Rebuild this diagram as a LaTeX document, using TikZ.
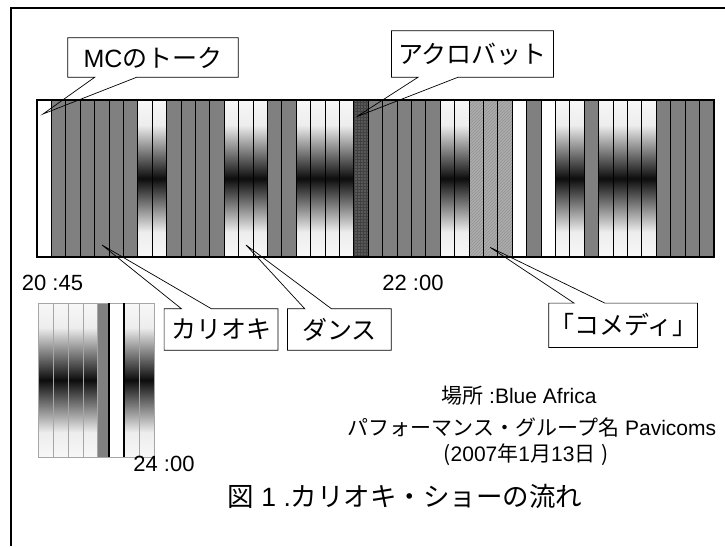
\documentclass[tikz,border=0pt]{standalone}
\usepackage{fontspec}
\setmainfont{Noto Sans CJK JP}
\newfontfamily\lat{Liberation Sans}
\usetikzlibrary{calc,patterns}
\definecolor{colgray}{gray}{0.5}
\definecolor{hatchgray}{gray}{0.68}
\definecolor{checkgray}{gray}{0.35}
\pgfdeclareverticalshading{bandshade}{100bp}{color(0bp)=(black!3); color(25bp)=(black!3); color(33bp)=(black!7); color(50bp)=(black!95); color(67bp)=(black!7); color(75bp)=(black!3); color(100bp)=(black!3)}
\tikzset{
  callbox/.style={inner sep=0pt, font=\fontsize{25}{29}\selectfont},
  callline/.style={line width=0.7pt, line join=miter},
  timelabel/.style={inner sep=0pt, font=\lat\fontsize{22}{26}\selectfont},
  infotext/.style={inner sep=0pt, font=\fontsize{21}{25}\selectfont},
  sep/.style={line width=0.8pt},
  band/.style={shading=bandshade},
}
\begin{document}
\begin{tikzpicture}[x=1pt,y=-1pt]
\useasboundingbox (0,0) rectangle (725,546);
% outer frame
\draw[line width=2pt] (725,8) -- (11,8) -- (11,546);

% ---------- main strip ----------
\fill[white] (37,100) rectangle (713.8,257);
\foreach \i in {2,...,7,10,11,12,13,17,18,24,25,26,27,28,35,39,44,45,46,47}
  \fill[colgray] ({37+(\i-1)*14.4},100) rectangle ++(14.4,157);
\foreach \i in {8,9,14,15,16,19,20,21,22,29,30,37,38,40,41,42,43}
  \shade[band] ({37+(\i-1)*14.4},100) rectangle ++(14.4,157);
\fill[checkgray] ({37+22*14.4},100) rectangle ++(14.4,157);
\fill[pattern=grid, pattern color=black!75] ({37+22*14.4},100) rectangle ++(14.4,157);
\foreach \i in {31,32,33}{
  \fill[hatchgray] ({37+(\i-1)*14.4},100) rectangle ++(14.4,157);
  \fill[pattern=north east lines, pattern color=gray!85] ({37+(\i-1)*14.4},100) rectangle ++(14.4,157);
}
\foreach \i in {1,...,46}
  \draw[sep] ({37+\i*14.4},100) -- ++(0,157);
\draw[line width=2.4pt] (37,100) rectangle (713.8,257);

% ---------- small strip ----------
\foreach \a/\b in {38.3/53.3,53.3/68.3,68.3/83.3,83.3/97.7,124.3/139.3,139.3/154.3}
  \shade[band] (\a,303) rectangle (\b,457);
\fill[colgray] (97.7,303) rectangle (109.3,457);
\foreach \a in {53.3,68.3,83.3,97.7,139.3}
  \draw[line width=0.6pt, gray!70] (\a,303) -- (\a,457);
\draw[line width=0.6pt, gray!70] (38.3,303) rectangle (154.3,457);
\draw[line width=1.8pt] (109.3,303) -- (109.3,457);
\draw[line width=1.8pt] (124.3,303) -- (124.3,457);

% ---------- time labels ----------
\node[timelabel] (t2045) at (52.5,283) {20 :45};
\node[timelabel] (t2200) at (413,283) {22 :00};
\node[timelabel] (t2400) at (164,464) {24 :00};

% ---------- callouts ----------
\coordinate (tipmc) at (43,114);
\coordinate (tipacro) at (356.7,116.7);
\coordinate (tipkari) at (102,245);
\coordinate (tipdance) at (246,245);
\coordinate (tipcom) at (490,247.3);

\node[callbox, minimum width=170pt, minimum height=39pt] (mc) at (153,57.5) {{\lat MC}のトーク};
\draw[callline] ($(mc.south west)+(27,0)$) -- (mc.south west) -- (mc.north west) -- (mc.north east) -- (mc.south east) -- ($(mc.south west)+(69,0)$) -- (tipmc) -- cycle;

\node[callbox, minimum width=161.6pt, minimum height=46pt] (acro) at (472.5,54) {アクロバット};
\draw[callline] ($(acro.south west)+(26.6,0)$) -- (acro.south west) -- (acro.north west) -- (acro.north east) -- (acro.south east) -- ($(acro.south west)+(66.6,0)$) -- (tipacro) -- cycle;

\node[callbox, minimum width=113.4pt, minimum height=41pt] (kari) at (221,329.5) {カリオキ};
\draw[callline] ($(kari.north west)+(17.4,0)$) -- (tipkari) -- ($(kari.north west)+(47.4,0)$) -- (kari.north east) -- (kari.south east) -- (kari.south west) -- (kari.north west) -- cycle;

\node[callbox, minimum width=103.3pt, minimum height=41pt] (dance) at (339.35,329.5) {ダンス};
\draw[callline] ($(dance.north west)+(17.3,0)$) -- (tipdance) -- ($(dance.north west)+(44,0)$) -- (dance.north east) -- (dance.south east) -- (dance.south west) -- (dance.north west) -- cycle;

\node[callbox, minimum width=138.3pt, minimum height=44pt] (com) at (623.15,325.3) {「コメディ」};
\draw[callline] ($(com.north west)+(25.3,0)$) -- (tipcom) -- ($(com.north west)+(56,0)$) -- (com.north east) -- (com.south east) -- (com.south west) -- (com.north west) -- cycle;

% ---------- info text ----------
\node[infotext] (place) at (519,396) {場所{\lat\ :Blue Africa}};
\node[infotext] (group) at (532,428) {パフォーマンス・グループ名{\lat\ Pavicoms}};
\node[infotext] (date) at (526,455) {({\lat 2007}年{\lat 1}月{\lat 13}日{\lat\ })};
\node[inner sep=0pt, font=\fontsize{26.5}{31}\selectfont] (title) at (405,496) {図{\lat\ 1 .}カリオキ・ショーの流れ};
\end{tikzpicture}
\end{document}
